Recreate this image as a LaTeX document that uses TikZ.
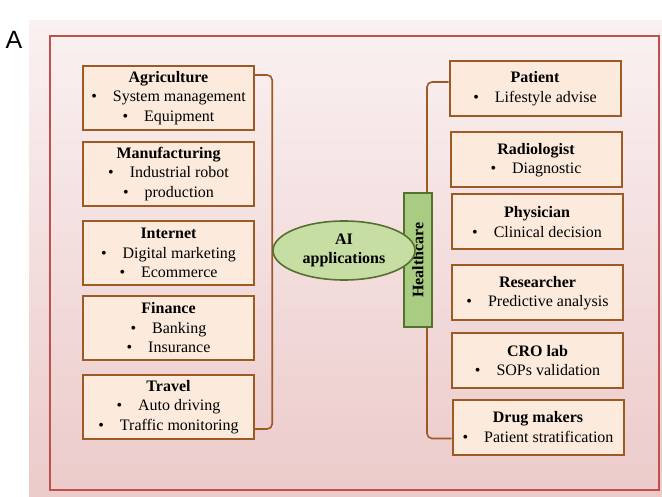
\documentclass[tikz,border=0pt]{standalone}
\usepackage{fontspec}
\setmainfont{Liberation Serif}
\newfontfamily\panelfont{Liberation Sans}
\usepackage{tikz}
\usetikzlibrary{shapes.geometric,backgrounds}
\definecolor{boxline}{HTML}{9E5A24}
\definecolor{boxfill}{HTML}{FCEBDC}
\definecolor{ovalfill}{HTML}{C6DDA3}
\definecolor{ovalline}{HTML}{56702F}
\definecolor{hcfill}{HTML}{A8CD82}
\definecolor{frame}{HTML}{C0504D}
\newcommand{\bul}{\textbullet\hspace{1em}}
\tikzset{sector/.style={draw=boxline, fill=boxfill, line width=2pt, minimum width=171pt,
    minimum height=64pt, inner sep=0pt, align=center, font=\fontsize{16}{19.5}\selectfont},
  role/.style={sector, minimum height=55pt},
  bracketline/.style={draw=boxline, line width=1.6pt, rounded corners=5pt}}

\begin{document}
\begin{tikzpicture}[x=1pt,y=-1pt]
\useasboundingbox (0,0) rectangle (662,497);

\node[font=\panelfont\fontsize{25}{25}\selectfont] (panel) at (14,40) {A};

% left column
\node[sector] (agri) at (168.5,98) {\textbf{Agriculture}\\ \bul System management\\ \bul Equipment};
\node[sector] (manu) at (168.5,174) {\textbf{Manufacturing}\\ \bul Industrial robot\\ \bul production};
\node[sector] (inet) at (168.5,253) {\textbf{Internet}\\ \bul Digital marketing\\ \bul Ecommerce};
\node[sector] (fin) at (168.5,328) {\textbf{Finance}\\ \bul Banking\\ \bul Insurance};
\node[sector] (travel) at (168.5,407) {\textbf{Travel}\\ \bul Auto driving\\ \bul Traffic monitoring};

% right column
\node[role] (patient) at (535,88.5) {\textbf{Patient}\\ \bul Lifestyle advise};
\node[role] (radio) at (536,160) {\textbf{Radiologist}\\ \bul Diagnostic};
\node[role] (phys) at (537,222) {\textbf{Physician}\\ \bul Clinical decision};
\node[role] (research) at (537.5,293) {\textbf{Researcher}\\ \bul Predictive analysis};
\node[role] (cro) at (537.5,360.5) {\textbf{CRO lab}\\ \bul SOPs validation};
\node[role] (drug) at (538,427) {\textbf{Drug makers}\\ \bul Patient stratification};

% centre
\node[draw=ovalline, fill=hcfill, line width=1.6pt, rotate=90, minimum width=134pt,
  minimum height=28pt, inner sep=0pt, font=\bfseries\fontsize{16}{16}\selectfont] (health) at (418,260) {Healthcare};
\node[ellipse, draw=ovalline, fill=ovalfill, line width=1.6pt, minimum width=142pt,
  minimum height=59pt, inner sep=0pt, align=center, font=\bfseries\fontsize{16}{19.5}\selectfont] (ai) at (344,250.5) {AI\\ applications};

\begin{scope}[on background layer]
\shade[top color={rgb,255:red,250;green,241;blue,241}, middle color={rgb,255:red,229;green,183;blue,186},
  bottom color={rgb,255:red,236;green,202;blue,202}] (29,21) rectangle (662,497);
\draw[frame, line width=2.2pt] (50,36) rectangle (659,490);
\draw[bracketline] ([yshift=-10pt]agri.north east) -| (ai.west) |- ([yshift=11pt]travel.south east);
\draw[bracketline] ([yshift=-22pt]patient.north west) -| ([xshift=9pt]health.center) |- ([yshift=17pt]drug.south west);
\end{scope}
\end{tikzpicture}
\end{document}
